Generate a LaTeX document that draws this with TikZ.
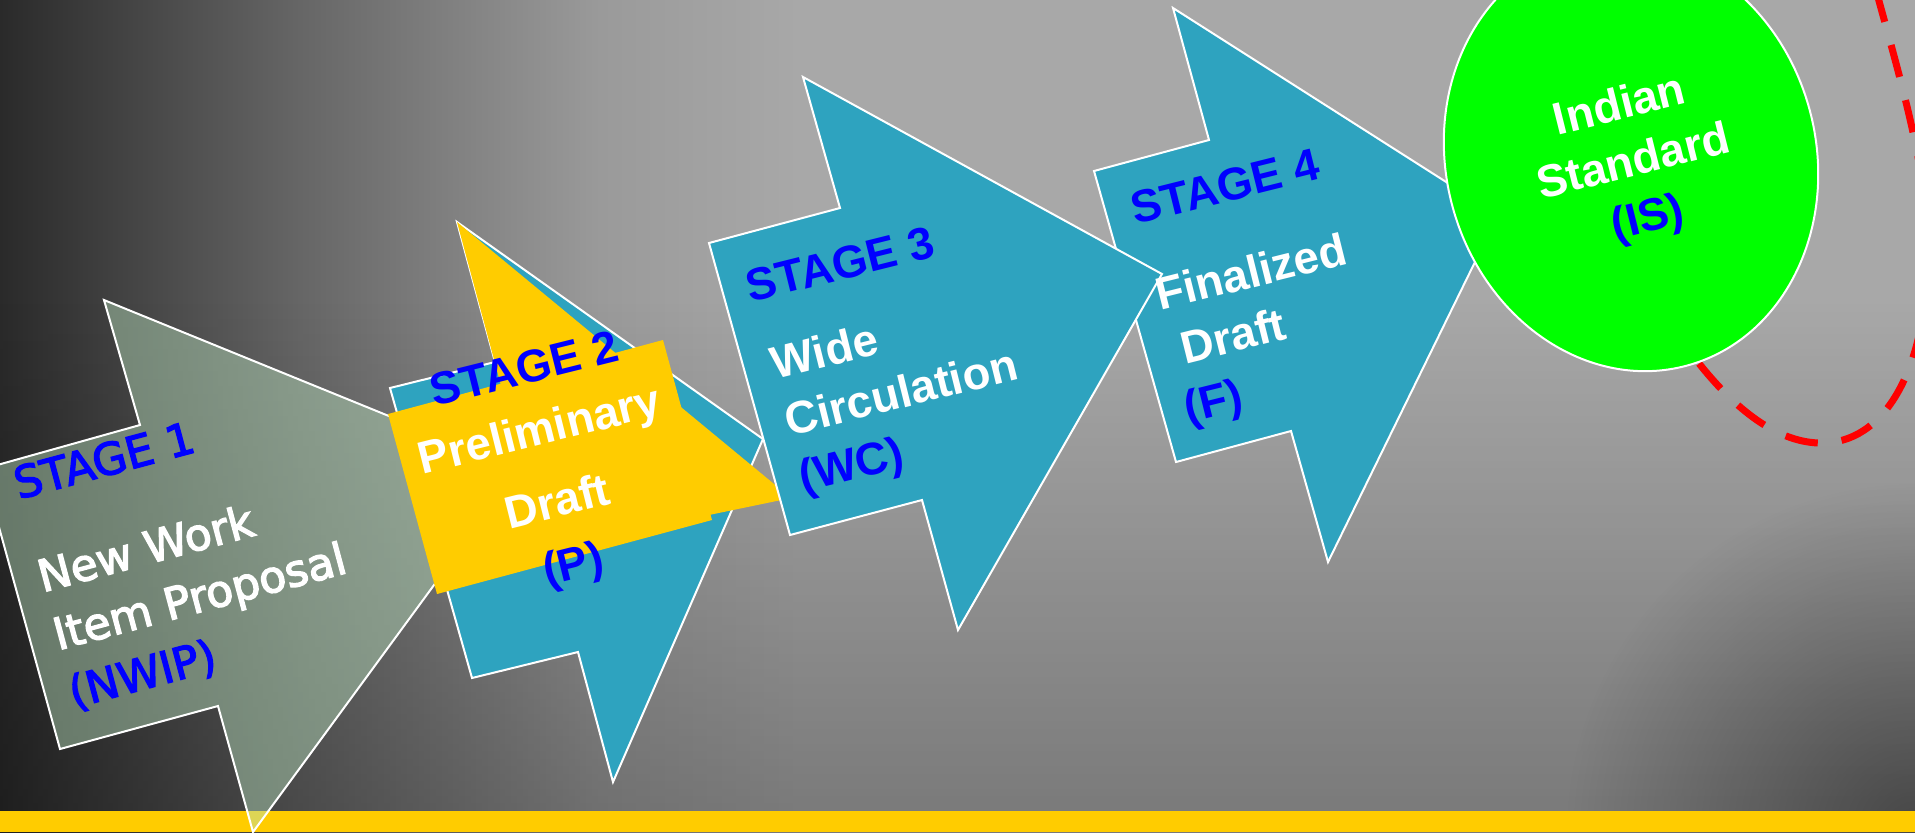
\documentclass[tikz,border=0pt]{standalone}
\usepackage{fontspec}
\setmainfont{Liberation Sans}
\newfontfamily\nwipfont[FakeBold=3]{DejaVu Sans}
\usetikzlibrary{shapes.geometric}

\newlength{\du}
\setlength{\du}{0.5pt}

\definecolor{bglight}{rgb}{0.659000, 0.659000, 0.659000}
\definecolor{bgmidA}{rgb}{0.604000, 0.604000, 0.604000}
\definecolor{bgmidB}{rgb}{0.400000, 0.400000, 0.400000}
\definecolor{bgdark}{rgb}{0.165000, 0.165000, 0.165000}
\definecolor{bgdim}{rgb}{0.720000, 0.720000, 0.720000}
\definecolor{bgcorner}{rgb}{0.580000, 0.580000, 0.580000}
\definecolor{stageteal}{rgb}{0.180000, 0.640000, 0.750000}
\definecolor{stageyellow}{rgb}{1.000000, 0.800000, 0.000000}
\definecolor{nwipgreen}{rgb}{0.720000, 0.880000, 0.740000}
\definecolor{isgreen}{rgb}{0.000000, 1.000000, 0.000000}

% path box maps to 25bp..75bp
\pgfdeclarehorizontalshading{bgsweep}{100bp}{%
color(0bp)=(bgdark); color(25bp)=(bgdark); color(32.83bp)=(bgmidB);
color(40.67bp)=(bgmidA); color(45.89bp)=(bglight); color(100bp)=(bglight)}
\pgfdeclareradialshading{bgcornerdim}{\pgfpoint{0bp}{0bp}}{%
color(0bp)=(bgcorner); color(25bp)=(white); color(50bp)=(white)}

\tikzset{
  stagearrow/.style={fill=stageteal, draw=white, line width=2\du},
  nwiparrow/.style={fill=nwipgreen, fill opacity=0.45, draw=white, line width=2\du},
  yellowpatch/.style={fill=stageyellow},
  loopline/.style={draw=red, line width=7\du, dash pattern=on 33\du off 24\du},
  isdisc/.style={ellipse, fill=isgreen, draw=white, line width=2\du,
    minimum width=370\du, minimum height=430\du, inner sep=0pt, rotate=15},
  stagetitle/.style={text=blue, inner sep=0pt, rotate=14,
    font=\fontsize{22.75}{29}\selectfont\bfseries},
  stagebody/.style={text=white, inner sep=0pt, rotate=14,
    font=\fontsize{22.75}{29}\selectfont\bfseries},
  nwiptitle/.style={text=blue, inner sep=0pt, rotate=15,
    font=\nwipfont\fontsize{22}{30}\selectfont},
  nwipbody/.style={text=white, inner sep=0pt, rotate=15, align=left,
    font=\nwipfont\fontsize{22}{30}\selectfont}
}

\begin{document}
\begin{tikzpicture}
\pgftransformxscale{1.000000}
\pgftransformyscale{-1.000000}
\useasboundingbox (0\du,0\du) rectangle (1915\du,832\du);
% backdrop
\shade[shading=bgsweep] (0\du,0\du) rectangle (1915\du,832\du);
\begin{scope}[blend mode=multiply]
\clip (0\du,0\du) rectangle (1915\du,832\du);
\shade[top color=white, bottom color=bgdim] (0\du,300\du) rectangle (1915\du,832\du);
\shade[shading=bgcornerdim] (1915\du,832\du) circle (350\du);
\end{scope}
\fill[stageyellow] (0\du,811\du) rectangle (1915\du,832\du);
% stage 1
\filldraw[nwiparrow] (-17\du,469\du)--(140\du,425\du)--(104\du,300\du)--(519\du,469\du)--(253\du,832\du)--(218\du,706\du)--(60\du,749\du)--cycle;
% stage 2
\filldraw[stagearrow] (390\du,388\du)--(495\du,362\du)--(457\du,222\du)--(763\du,439\du)--(613\du,782\du)--(578\du,652\du)--(472\du,678\du)--cycle;
\fill[yellowpatch] (388\du,414\du)--(663\du,340\du)--(712\du,520\du)--(437\du,594\du)--cycle;
\fill[yellowpatch] (457\du,222\du)--(791\du,498\du)--(545\du,549\du)--cycle;
% stage 4 goes under stage 3
\filldraw[stagearrow] (1094\du,171\du)--(1209\du,140\du)--(1173\du,8\du)--(1498\du,215\du)--(1328\du,562\du)--(1291\du,431\du)--(1176\du,462\du)--cycle;
% stage 3
\filldraw[stagearrow] (709\du,243\du)--(840\du,208\du)--(803\du,77\du)--(1162\du,274\du)--(958\du,630\du)--(922\du,500\du)--(790\du,535\du)--cycle;
% loop back into the standard
\coordinate (looptop) at (1876\du,-10\du);
\coordinate (loopin) at (1680\du,338\du);
\draw[loopline] (looptop) .. controls (1899\du,75\du) and (1928\du,170\du) .. (1928\du,250\du) .. controls (1928\du,360\du) and (1890\du,440\du) .. (1825\du,443\du) .. controls (1770\du,445\du) and (1720\du,395\du) .. (loopin);
\node[isdisc] (isnode) at (1631\du,158\du) {};
\node[stagebody, align=center] (istext) at (1634\du,164\du) {Indian\\Standard\\\textcolor{blue}{(IS)}};
% labels
\node[nwiptitle] (s1title) at (104\du,460\du) {STAGE 1};
\node[nwipbody] (s1body) at (200\du,598\du) {New Work\\Item Proposal\\\textcolor{blue}{(NWIP)}};
\node[stagetitle] (s2title) at (524\du,368\du) {STAGE 2};
\node[stagebody, align=center] (s2body) at (557\du,500\du) {Preliminary\\[8pt]Draft\\[3pt]\textcolor{blue}{(P)}};
\node[stagetitle] (s3title) at (840\du,264\du) {STAGE 3};
\node[stagebody, align=left] (s3body) at (902\du,396\du) {Wide\\Circulation\\\textcolor{blue}{(WC)}};
\node[stagetitle] (s4title) at (1225\du,186\du) {STAGE 4};
\node[stagebody, align=left] (s4body) at (1266\du,332\du) {Finalized\\\hspace*{0.25em}Draft\\\textcolor{blue}{(F)}};
\end{tikzpicture}
\end{document}
